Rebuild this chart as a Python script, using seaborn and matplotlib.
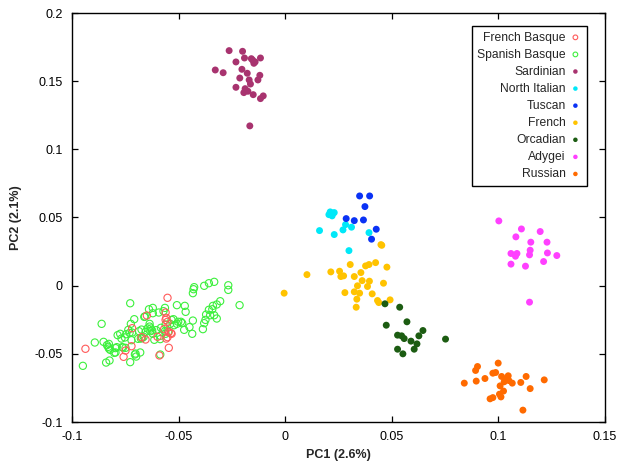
import numpy as np
import pandas as pd
import matplotlib
matplotlib.use("Agg")
import matplotlib.pyplot as plt
import seaborn as sns

# ---------------- data ----------------
french_basque_x = [-0.0937, -0.0718, -0.0649, -0.0721, -0.0758, -0.0749, -0.0655, -0.0674,
                   -0.0599, -0.0590, -0.0552, -0.0561, -0.0558, -0.0561, -0.0552, -0.0568,
                   -0.0546, -0.0536, -0.0558, -0.0552, -0.0546, -0.0533]
french_basque_y = [-0.0463, -0.0312, -0.0219, -0.0444, -0.0522, -0.0476, -0.0395, -0.0378,
                   -0.0375, -0.0512, -0.0089, -0.0197, -0.0236, -0.0251, -0.0265, -0.0319,
                   -0.0339, -0.0348, -0.0388, -0.0378, -0.0456, -0.0353]

spanish_basque_x = [-0.0949, -0.0893, -0.0861, -0.0852, -0.0836, -0.0827, -0.0827, -0.0821,
                    -0.0840, -0.0824, -0.0796, -0.0790, -0.0786, -0.0774, -0.0768, -0.0765,
                    -0.0749, -0.0736, -0.0727, -0.0724, -0.0718, -0.0708, -0.0705, -0.0699,
                    -0.0680, -0.0686, -0.0677, -0.0671, -0.0727, -0.0658, -0.0655, -0.0646,
                    -0.0639, -0.0636, -0.0636, -0.0633, -0.0624, -0.0621, -0.0621, -0.0614,
                    -0.0593, -0.0586, -0.0586, -0.0583, -0.0571, -0.0564, -0.0564, -0.0561,
                    -0.0561, -0.0549, -0.0539, -0.0533, -0.0524, -0.0521, -0.0508, -0.0508,
                    -0.0502, -0.0489, -0.0483, -0.0471, -0.0467, -0.0474, -0.0449, -0.0436,
                    -0.0433, -0.0430, -0.0427, -0.0433, -0.0386, -0.0380, -0.0374, -0.0371,
                    -0.0358, -0.0352, -0.0342, -0.0339, -0.0333, -0.0321, -0.0321, -0.0305,
                    -0.0380, -0.0358, -0.0333, -0.0267, -0.0267, -0.0214, -0.0630, -0.0621,
                    -0.0702, -0.0752, -0.0746, -0.0730, -0.0674, -0.0664, -0.0605, -0.0586,
                    -0.0690, -0.0721, -0.0661, -0.0802, -0.0830, -0.0796, -0.0761]
spanish_basque_y = [-0.0588, -0.0417, -0.0280, -0.0412, -0.0436, -0.0427, -0.0461, -0.0471,
                    -0.0564, -0.0549, -0.0490, -0.0451, -0.0363, -0.0353, -0.0388, -0.0451,
                    -0.0456, -0.0324, -0.0129, -0.0280, -0.0344, -0.0246, -0.0505, -0.0520,
                    -0.0490, -0.0334, -0.0388, -0.0383, -0.0561, -0.0226, -0.0339, -0.0314,
                    -0.0173, -0.0280, -0.0300, -0.0334, -0.0329, -0.0163, -0.0202, -0.0397,
                    -0.0197, -0.0505, -0.0368, -0.0309, -0.0187, -0.0163, -0.0334, -0.0353,
                    -0.0285, -0.0339, -0.0280, -0.0251, -0.0246, -0.0290, -0.0143, -0.0280,
                    -0.0265, -0.0265, -0.0275, -0.0148, -0.0192, -0.0324, -0.0304, -0.0353,
                    -0.0256, -0.0026, -0.0011, -0.0055, -0.0319, -0.0275, -0.0251, -0.0212,
                    -0.0177, -0.0217, -0.0173, -0.0148, -0.0217, -0.0241, -0.0138, -0.0114,
                    -0.0001, 0.0018, 0.0028, 0.0003, -0.0031, -0.0143, -0.0314, -0.0353,
                    -0.0498, -0.0380, -0.0356, -0.0346, -0.0322, -0.0375, -0.0326, -0.0392,
                    -0.0390, -0.0400, -0.0229, -0.0493, -0.0449, -0.0458, -0.0454]

sardinian_x = [-0.0263, -0.0200, -0.0231, -0.0191, -0.0159, -0.0141, -0.0116, -0.0147,
               -0.0328, -0.0291, -0.0203, -0.0178, -0.0213, -0.0119, -0.0128, -0.0169,
               -0.0163, -0.0231, -0.0188, -0.0175, -0.0194, -0.0150, -0.0116, -0.0103,
               -0.0166, -0.0153]
sardinian_y = [0.1724, 0.1719, 0.1641, 0.1670, 0.1665, 0.1641, 0.1670, 0.1631,
               0.1582, 0.1562, 0.1587, 0.1558, 0.1523, 0.1543, 0.1509, 0.1509,
               0.1479, 0.1455, 0.1445, 0.1426, 0.1416, 0.1401, 0.1372, 0.1392,
               0.1172, 0.1655]

north_italian_x = [0.0211, 0.0230, 0.0220, 0.0205, 0.0161, 0.0283, 0.0271, 0.0311,
                   0.0230, 0.0393, 0.0299, 0.0224]
north_italian_y = [0.0541, 0.0536, 0.0512, 0.0521, 0.0404, 0.0448, 0.0409, 0.0429,
                   0.0375, 0.0389, 0.0257, 0.0531]

tuscan_x = [0.0349, 0.0396, 0.0374, 0.0286, 0.0324, 0.0367, 0.0427, 0.0405]
tuscan_y = [0.0658, 0.0658, 0.0580, 0.0492, 0.0477, 0.0482, 0.0414, 0.0341]

french_x = [0.0449, 0.0453, -0.0005, 0.0102, 0.0214, 0.0255, 0.0261, 0.0274, 0.0305,
            0.0324, 0.0355, 0.0377, 0.0393, 0.0424, 0.0477, 0.0361, 0.0395, 0.0339,
            0.0386, 0.0461, 0.0280, 0.0324, 0.0349, 0.0408, 0.0336, 0.0433, 0.0439,
            0.0333, 0.0492]
french_y = [0.0301, 0.0296, -0.0055, 0.0081, 0.0101, 0.0106, 0.0067, 0.0072, 0.0155,
            0.0067, 0.0096, 0.0145, 0.0155, 0.0169, 0.0136, 0.0037, 0.0033, -0.0001,
            -0.0006, 0.0018, -0.0051, -0.0045, -0.0055, -0.0060, -0.0099, -0.0109, -0.0124,
            -0.0158, -0.0104]

orcadian_x = [0.0468, 0.0537, 0.0474, 0.0571, 0.0527, 0.0546, 0.0558, 0.0590, 0.0627,
              0.0646, 0.0618, 0.0527, 0.0605, 0.0552, 0.0752]
orcadian_y = [-0.0133, -0.0158, -0.0290, -0.0265, -0.0363, -0.0368, -0.0388, -0.0407, -0.0368,
              -0.0329, -0.0427, -0.0466, -0.0466, -0.0500, -0.0392]

adygei_x = [0.1002, 0.1108, 0.1196, 0.1082, 0.1152, 0.1228, 0.1149, 0.1059, 0.1087,
            0.1080, 0.1146, 0.1230, 0.1274, 0.1059, 0.1127, 0.1212, 0.1146]
adygei_y = [0.0475, 0.0416, 0.0397, 0.0358, 0.0319, 0.0319, 0.0260, 0.0236, 0.0236,
            0.0216, 0.0226, 0.0240, 0.0221, 0.0158, 0.0143, 0.0177, -0.0121]

russian_x = [0.0999, 0.0902, 0.0893, 0.0974, 0.0987, 0.1015, 0.1046, 0.1130, 0.0937,
             0.0840, 0.0896, 0.1027, 0.1049, 0.1065, 0.1105, 0.1215, 0.1008, 0.1024,
             0.1149, 0.1005, 0.1012, 0.0974, 0.0961, 0.1115, 0.1040]
russian_y = [-0.0568, -0.0593, -0.0622, -0.0642, -0.0637, -0.0666, -0.0661, -0.0666, -0.0681,
             -0.0715, -0.0700, -0.0705, -0.0696, -0.0715, -0.0710, -0.0691, -0.0735, -0.0773,
             -0.0755, -0.0796, -0.0816, -0.0821, -0.0830, -0.0913, -0.0681]

populations = ["French Basque", "Spanish Basque", "Sardinian", "North Italian", "Tuscan",
               "French", "Orcadian", "Adygei", "Russian"]
colors = ["#ff5a5a", "#3cf03c", "#a8336f", "#00e8f8", "#0a32f5",
          "#ffc300", "#1c5c12", "#ff40ff", "#ff6a00"]
open_marker = [True, True, False, False, False, False, False, False, False]

xs = [french_basque_x, spanish_basque_x, sardinian_x, north_italian_x, tuscan_x,
      french_x, orcadian_x, adygei_x, russian_x]
ys = [french_basque_y, spanish_basque_y, sardinian_y, north_italian_y, tuscan_y,
      french_y, orcadian_y, adygei_y, russian_y]

frames = []
for name, x, y in zip(populations, xs, ys):
    frames.append(pd.DataFrame({"PC1": x, "PC2": y, "pop": name}))
df = pd.concat(frames, ignore_index=True)

# ---------------- style ----------------
sns.set_style("white")
plt.rcParams["font.family"] = ["Liberation Sans", "DejaVu Sans"]

fig = plt.figure(figsize=(6.18, 4.61), dpi=100)
ax = fig.add_axes([72 / 618, 1 - 422 / 461, (605 - 72) / 618, (422 - 13) / 461])

draw_order = [1, 0, 2, 3, 4, 5, 6, 7, 8]
handles = {}
for i in draw_order:
    name = populations[i]
    sub = df[df["pop"] == name]
    if open_marker[i]:
        sns.scatterplot(data=sub, x="PC1", y="PC2", ax=ax, marker="o",
                        s=27, facecolors="none", edgecolor=colors[i],
                        linewidth=0.8, label=name, legend=False)
    else:
        sns.scatterplot(data=sub, x="PC1", y="PC2", ax=ax, marker="o",
                        s=25, color=colors[i], edgecolor="none", linewidth=0,
                        label=name, legend=False)
    handles[name] = ax.collections[-1]

ax.set_xlim(-0.1, 0.15)
ax.set_ylim(-0.1, 0.2)
ax.set_xticks([-0.1, -0.05, 0, 0.05, 0.1, 0.15])
ax.set_xticklabels(["-0.1", "-0.05", "0", "0.05", "0.1", "0.15"])
ax.set_yticks([-0.1, -0.05, 0, 0.05, 0.1, 0.15, 0.2])
ax.set_yticklabels(["-0.1", "-0.05", "0", "0.05", "0.1", "0.15", "0.2"])

ax.tick_params(axis="both", which="both", direction="in", length=4.5, width=0.9,
               top=True, right=True, bottom=True, left=True,
               labelsize=9, pad=6.5, colors="black")
for sp in ax.spines.values():
    sp.set_visible(True)
    sp.set_color("black")
    sp.set_linewidth(1.0)

ax.set_xlabel("PC1 (2.6%)", fontsize=9, fontweight="bold", labelpad=4)
ax.set_ylabel("PC2 (2.1%)", fontsize=9, fontweight="bold", labelpad=9)

leg = ax.legend([handles[n] for n in populations], populations,
                loc="upper right", bbox_to_anchor=(0.966, 0.968), borderaxespad=0,
                markerfirst=False, frameon=True, fancybox=False, framealpha=1,
                edgecolor="black", fontsize=8.7, labelspacing=0.42,
                handletextpad=0.3, handlelength=1.0, markerscale=0.65,
                borderpad=0.45)
leg.get_frame().set_linewidth(1.0)

fig.savefig("out.png", dpi=100)
